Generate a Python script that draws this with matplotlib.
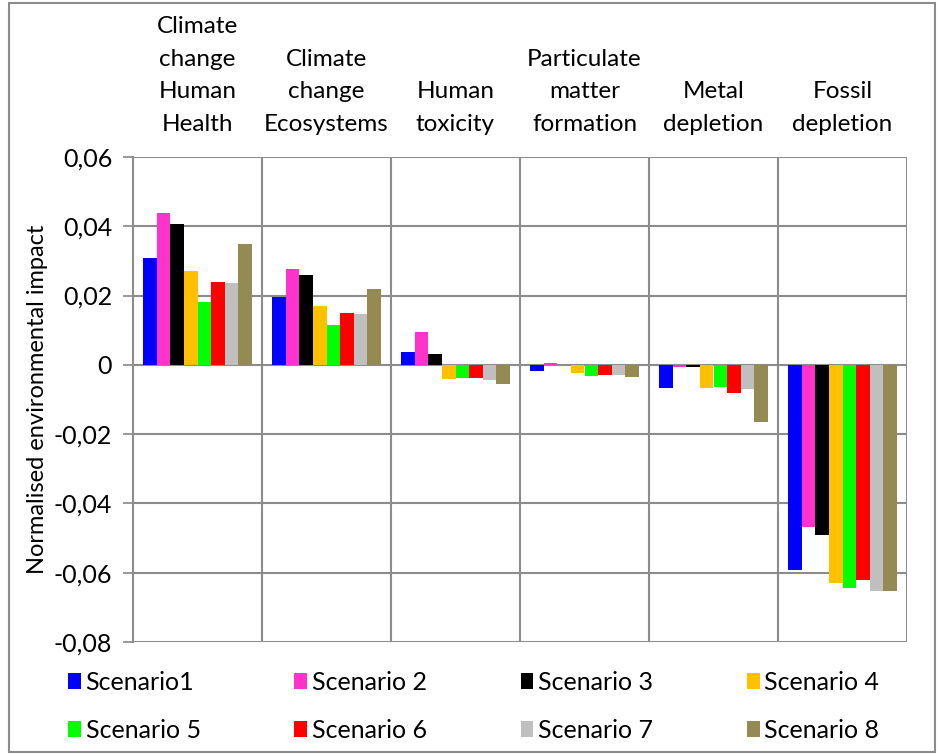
import numpy as np
import matplotlib
matplotlib.use('Agg')
import matplotlib.pyplot as plt
from matplotlib.patches import Rectangle
from matplotlib.ticker import FuncFormatter

plt.rcParams['font.family'] = ['Lato', 'DejaVu Sans']

categories = ['Climate\nchange\nHuman\nHealth', 'Climate\nchange\nEcosystems', 'Human\ntoxicity',
              'Particulate\nmatter\nformation', 'Metal\ndepletion', 'Fossil\ndepletion']
scenarios = ['Scenario1', 'Scenario 2', 'Scenario 3', 'Scenario 4',
             'Scenario 5', 'Scenario 6', 'Scenario 7', 'Scenario 8']
colors = ['#0000FF', '#FF33CC', '#000000', '#FFC000', '#00FF00', '#FF0000', '#BFBFBF', '#948A54']

# rows = scenario, columns = impact category
s1 = [0.0309, 0.0196, 0.0036, -0.0019, -0.0068, -0.0593]
s2 = [0.0438, 0.0277, 0.0095, 0.0004, -0.0007, -0.0467]
s3 = [0.0407, 0.0260, 0.0032, 0.0001, -0.0007, -0.0492]
s4 = [0.0271, 0.0170, -0.0041, -0.0024, -0.0068, -0.0631]
s5 = [0.0182, 0.0115, -0.0037, -0.0032, -0.0063, -0.0645]
s6 = [0.0239, 0.0150, -0.0039, -0.0029, -0.0082, -0.0621]
s7 = [0.0237, 0.0147, -0.0043, -0.0029, -0.0070, -0.0653]
s8 = [0.0349, 0.0219, -0.0056, -0.0035, -0.0165, -0.0652]
values = [s1, s2, s3, s4, s5, s6, s7, s8]

fig = plt.figure(figsize=(9.38, 7.54), dpi=100)
ax = fig.add_axes([133 / 938, 1 - 642 / 754, (907 - 133) / 938, (642 - 157) / 754])

x = np.arange(len(categories))
w = 0.105
bars = []
for i, (vals, c) in enumerate(zip(values, colors)):
    bars.append(ax.bar(x + (i - 3.5) * w, vals, width=w, color=c, label=scenarios[i], zorder=3))

ax.set_xlim(-0.5, len(categories) - 0.5)
ax.set_ylim(-0.08, 0.06)
ax.set_yticks(np.arange(-0.08, 0.061, 0.02))
ax.yaxis.set_major_formatter(FuncFormatter(lambda v, p: ('%.2f' % v).replace('.', ',').replace('-0,00', '0').replace('0,00', '0')))
ax.set_xticks(x)
ax.set_xticklabels(categories, fontsize=17.5, linespacing=1.68)
ax.xaxis.tick_top()
ax.tick_params(axis='x', length=0, pad=16)
ax.tick_params(axis='y', labelsize=18, length=7, width=1.2, color='#888888', pad=8)

for v in np.arange(-0.08, 0.061, 0.02):
    ax.axhline(v, color='#8c8c8c', lw=1.5, zorder=1)
for xv in np.arange(0.5, len(categories) - 0.5, 1):
    ax.axvline(xv, color='#8c8c8c', lw=1.5, zorder=1)
for s in ['top', 'right', 'bottom']:
    ax.spines[s].set_visible(False)
ax.spines['left'].set_color('#8c8c8c')
ax.spines['left'].set_linewidth(1.5)
ax.axvline(len(categories) - 0.5, color='#8c8c8c', lw=1.5, zorder=1)

ax.set_ylabel('Normalised environmental impact', fontsize=17, labelpad=4)

# legend fills row by row in the reference
order = [0, 4, 1, 5, 2, 6, 3, 7]
fig.legend([bars[i] for i in order], [scenarios[i] for i in order],
           loc='center left', bbox_to_anchor=(58 / 938, 1 - 706 / 754), ncol=4, frameon=False,
           fontsize=18, handlelength=0.5, handleheight=0.6, handletextpad=0.2,
           columnspacing=3.75, labelspacing=1.0, borderaxespad=0)

fig.patches.append(Rectangle((9 / 938, 2 / 754), 926 / 938, 749 / 754, transform=fig.transFigure,
                             fill=False, edgecolor='#8c8c8c', lw=1.5))

fig.savefig('out.png', dpi=100)
